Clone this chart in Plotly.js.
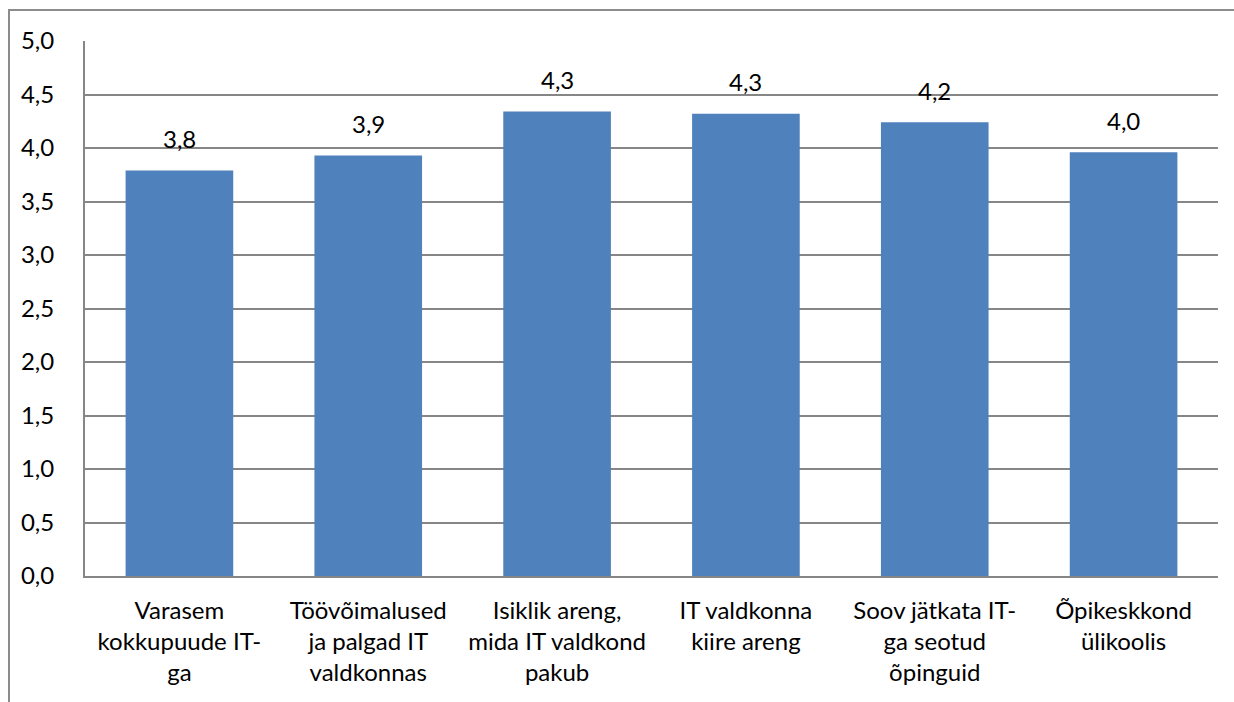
<!DOCTYPE html>
<html>
<head>
<meta charset="utf-8">
<script src="https://cdn.plot.ly/plotly-3.0.1.min.js"></script>
<style>
html,body{margin:0;padding:0;background:#fff;}
#chart{width:1234px;height:702px;position:absolute;left:0;top:0;}
#frame{position:absolute;left:8px;top:9px;width:1240px;height:700px;border-left:2px solid #8c8c8c;border-top:2px solid #8c8c8c;pointer-events:none;}
</style>
</head>
<body>
<div id="chart"></div>
<div id="frame"></div>
<script>
const categories = [
  "Varasem<br>kokkupuude IT-<br>ga",
  "Töövõimalused<br>ja palgad IT<br>valdkonnas",
  "Isiklik areng,<br>mida IT valdkond<br>pakub",
  "IT valdkonna<br>kiire areng",
  "Soov jätkata IT-<br>ga seotud<br>õpinguid",
  "Õpikeskkond<br>ülikoolis"
];
const values = [3.79, 3.93, 4.34, 4.32, 4.24, 3.96];
const yTickValues = [0, 0.5, 1, 1.5, 2, 2.5, 3, 3.5, 4, 4.5, 5];

const fontFamily = "Lato, 'Open Sans', sans-serif";
const fontSize = 24;

const labels = values.map(v => v.toFixed(1).replace('.', ','));

const trace = {
  type: 'bar',
  x: categories,
  y: values,
  marker: {color: '#4F81BD'},
  hoverinfo: 'none'
};

const annotations = values.map((v, i) => ({
  x: categories[i],
  y: v,
  xref: 'x',
  yref: 'y',
  text: labels[i],
  showarrow: false,
  yanchor: 'middle',
  yshift: 32,
  font: {family: fontFamily, size: fontSize, color: '#000'}
}));

const layout = {
  width: 1234,
  height: 702,
  margin: {l: 85, r: 16, t: 41, b: 126},
  paper_bgcolor: '#fff',
  plot_bgcolor: '#fff',
  separators: ', ',
  bargap: 0.43,
  showlegend: false,
  font: {family: fontFamily, size: fontSize, color: '#000'},
  xaxis: {
    type: 'category',
    showline: true,
    linecolor: '#868686',
    linewidth: 2,
    ticks: '',
    ticklabelstandoff: 12,
    tickfont: {family: fontFamily, size: fontSize, color: '#000'},
    showgrid: false,
    zeroline: false,
    fixedrange: true
  },
  yaxis: {
    range: [0, 5],
    tickvals: yTickValues,
    tickformat: '.1f',
    showline: true,
    linecolor: '#868686',
    linewidth: 2,
    showgrid: true,
    gridcolor: '#868686',
    gridwidth: 2,
    zeroline: false,
    ticks: '',
    ticklabelstandoff: 24,
    tickfont: {family: fontFamily, size: fontSize, color: '#000'},
    fixedrange: true
  },
  annotations: annotations
};

Plotly.newPlot('chart', [trace], layout, {staticPlot: true, displayModeBar: false});
</script>
</body>
</html>
